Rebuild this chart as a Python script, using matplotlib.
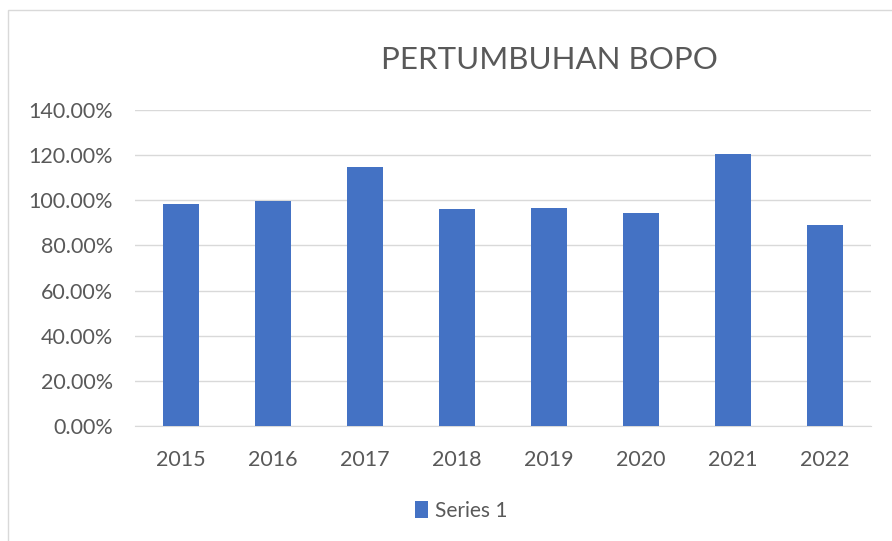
import matplotlib.pyplot as plt
from matplotlib.patches import Rectangle
from matplotlib.ticker import FuncFormatter

years = ['2015', '2016', '2017', '2018', '2019', '2020', '2021', '2022']
bopo = [98.5, 99.7, 114.7, 96.0, 96.5, 94.4, 120.4, 89.0]
series_name = 'Series 1'
title = 'PERTUMBUHAN BOPO'

bar_color = '#4472c4'
text_color = '#595959'
grid_color = '#d9d9d9'

plt.rcParams['font.family'] = ['Lato', 'DejaVu Sans']

W, H = 892, 541
fig = plt.figure(figsize=(W / 100, H / 100), dpi=100)

# chart frame (right and bottom run off the picture)
fig.patches.append(Rectangle((8 / W, -0.05), 1.0, 1 - 10 / H + 0.05,
                             transform=fig.transFigure, fill=False,
                             edgecolor=grid_color, linewidth=1.0))

ax = fig.add_axes([135 / W, 1 - 426 / H, (871 - 135) / W, (426 - 110) / H])
x = range(len(years))
ax.bar(x, bopo, width=0.4, color=bar_color, label=series_name, zorder=3)

ax.set_xlim(-0.5, len(years) - 0.5)
ax.set_ylim(0, 140)
ax.set_yticks(range(0, 141, 20))
ax.yaxis.set_major_formatter(FuncFormatter(lambda v, p: f'{v:.2f}%'))
ax.set_xticks(list(x))
ax.set_xticklabels(years)

ax.grid(axis='y', color=grid_color, linewidth=1.0, zorder=0)
for s in ['top', 'right', 'left']:
    ax.spines[s].set_visible(False)
ax.spines['bottom'].set_color(grid_color)
ax.tick_params(axis='both', length=0, labelsize=15.5, colors=text_color)
ax.tick_params(axis='x', pad=17)
ax.tick_params(axis='y', pad=16)

fig.text(549 / W, 1 - 60 / H, title, ha='center', va='center',
         fontsize=22.5, color=text_color)

fig.legend(loc='center', bbox_to_anchor=(461 / W, 1 - 511 / H), frameon=False,
           fontsize=15, labelcolor=text_color, handlelength=0.65,
           handleheight=0.85, handletextpad=0.3)

fig.savefig('out.png', dpi=100)
